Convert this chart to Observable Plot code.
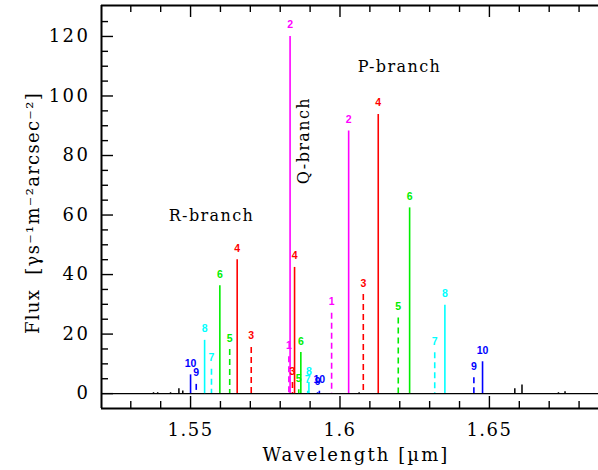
<!DOCTYPE html>
<html>
<head>
<meta charset="utf-8">
<script src="https://cdn.jsdelivr.net/npm/d3@7"></script>
<script src="https://cdn.jsdelivr.net/npm/@observablehq/plot@0.6"></script>
<style>
  body { margin: 0; background: #fff; }
  g[aria-label="x-axis tick label"] text { letter-spacing: 1.5px; }
  g[aria-label="y-axis tick label"] text { letter-spacing: 2.5px; }
</style>
</head>
<body>
<div id="chart"></div>
<script>
// R-branch: upper-level J, wavelength (µm), flux
const rJ    = [3, 4, 5, 6, 7, 8, 9, 10];
const rWave = [1.5703, 1.5656, 1.5631, 1.5598, 1.5570, 1.5547, 1.5519, 1.5500];
const rFlux = [15.5, 45.0, 14.8, 36.2, 8.2, 17.9, 3.1, 6.3];

// Q-branch
const qJ    = [1, 2, 3, 4, 5, 6, 7, 8, 9, 10];
const qWave = [1.5829, 1.5833, 1.5841, 1.5848, 1.5862, 1.5869, 1.5892, 1.5896, 1.5925, 1.5931];
const qFlux = [12.4, 120.0, 3.7, 42.4, 1.3, 13.8, 0.8, 3.7, 0.3, 0.8];

// P-branch
const pJ    = [1, 2, 3, 4, 5, 6, 7, 8, 9, 10];
const pWave = [1.5972, 1.6029, 1.6078, 1.6128, 1.6195, 1.6233, 1.6317, 1.6351, 1.6448, 1.6477];
const pFlux = [27.0, 88.2, 33.3, 93.8, 25.4, 62.4, 13.7, 29.7, 5.3, 10.7];

// weak unlabelled lines (black)
const otherWave = [1.5376, 1.5390, 1.5433, 1.5461, 1.5474, 1.6064, 1.6585, 1.6609, 1.6731, 1.6753];
const otherFlux = [0.3, 0.3, 0.3, 1.6, 0.9, 0.3, 1.6, 2.9, 0.3, 0.6];

// branch annotations
const branchName = ["R-branch", "Q-branch", "P-branch"];
const branchWave = [1.5570, 1.5878, 1.6199];
const branchFlux = [59.8, 85.0, 109.9];

// axis ticks
const xMajor = [1.55, 1.6, 1.65];
const xMinor = [1.53, 1.54, 1.56, 1.57, 1.58, 1.59, 1.61, 1.62, 1.63, 1.64, 1.66, 1.67, 1.68];
const yMajor = [0, 20, 40, 60, 80, 100, 120];
const yMinor = [5, 10, 15, 25, 30, 35, 45, 50, 55, 65, 70, 75, 85, 90, 95, 105, 110, 115, 125];

// colour per J level
const jLevels = [1, 2, 3, 4, 5, 6, 7, 8, 9, 10];
const jColors = ["#ff00ff", "#ff00ff", "#ff0000", "#ff0000", "#00ee00", "#00ee00",
                 "#00ffff", "#00ffff", "#0000ff", "#0000ff"];

const xTitle = "Wavelength [µm]";
const yTitle = "Flux  [γs⁻¹m⁻²arcsec⁻²]";

const toRows = (js, ws, fs) => js.map((j, i) => ({j, wave: ws[i], flux: fs[i]}));
const lines = [...toRows(rJ, rWave, rFlux), ...toRows(qJ, qWave, qFlux), ...toRows(pJ, pWave, pFlux)];
const others = otherWave.map((w, i) => ({wave: w, flux: otherFlux[i]}));
const branches = branchName.map((name, i) => ({name, wave: branchWave[i], flux: branchFlux[i]}));

const W = 598, H = 470;
const mTop = 5, mRight = 0, mBottom = 62, mLeft = 101;
const fw = W - mLeft - mRight, fh = H - mTop - mBottom;
const xDomain = [1.5202, 1.6865];
const yDomain = [-5, 130.4];

const serif = "DejaVu Serif";
const tickStyle = {stroke: "black", strokeWidth: 1.4};

const chart = Plot.plot({
  width: W,
  height: H,
  marginTop: mTop,
  marginRight: mRight,
  marginBottom: mBottom,
  marginLeft: mLeft,
  x: {domain: xDomain},
  y: {domain: yDomain},
  color: {domain: jLevels, range: jColors},
  style: {fontFamily: serif, background: "white", color: "black"},
  marks: [
    // zero baseline
    Plot.ruleY([0], {stroke: "black", strokeWidth: 1.2}),
    // weak lines
    Plot.ruleX(others, {x: "wave", y1: 0, y2: "flux", stroke: "black", strokeWidth: 1.5}),
    // odd J: dashed
    Plot.ruleX(lines.filter(d => d.j % 2 === 1), {
      x: "wave", y1: "flux", y2: 0, stroke: "j", strokeWidth: 1.6, strokeDasharray: "6,4"
    }),
    // even J: solid
    Plot.ruleX(lines.filter(d => d.j % 2 === 0), {
      x: "wave", y1: "flux", y2: 0, stroke: "j", strokeWidth: 1.6
    }),
    // J labels above each line
    Plot.text(lines, {
      x: "wave", y: "flux", text: d => String(d.j), fill: "j",
      dy: -8, lineAnchor: "bottom",
      fontFamily: "Liberation Sans", fontWeight: "bold", fontSize: 10.5
    }),
    // branch names
    Plot.text(branches.filter(d => d.name !== "Q-branch"), {
      x: "wave", y: "flux", text: "name", fontSize: 16, fill: "black"
    }),
    Plot.text(branches.filter(d => d.name === "Q-branch"), {
      x: "wave", y: "flux", text: "name", fontSize: 16, fill: "black", rotate: -90
    }),
    // frame (left, top, bottom)
    Plot.ruleY([yDomain[0], yDomain[1]], {stroke: "black", strokeWidth: 2}),
    Plot.ruleX([xDomain[0]], {stroke: "black", strokeWidth: 2}),
    // inward ticks, bottom and top
    Plot.tickX(xMajor, {x: d => d, insetTop: fh - 12, ...tickStyle}),
    Plot.tickX(xMinor, {x: d => d, insetTop: fh - 7, ...tickStyle}),
    Plot.tickX(xMajor, {x: d => d, insetBottom: fh - 12, ...tickStyle}),
    Plot.tickX(xMinor, {x: d => d, insetBottom: fh - 7, ...tickStyle}),
    // inward ticks, left
    Plot.tickY(yMajor, {y: d => d, insetRight: fw - 12, ...tickStyle}),
    Plot.tickY(yMinor, {y: d => d, insetRight: fw - 7, ...tickStyle}),
    // tick labels
    Plot.axisX(xMajor, {tickSize: 0, tickPadding: 15, tickFormat: d => String(d), fontSize: 18, label: null}),
    Plot.axisY(yMajor, {tickSize: 0, tickPadding: 11, tickFormat: d => String(d), fontSize: 18, label: null}),
    // axis titles
    Plot.text([xTitle], {
      text: d => d, frameAnchor: "bottom", lineAnchor: "middle", textAnchor: "middle",
      dy: 47, dx: 6, fontSize: 18, fill: "black"
    }),
    Plot.text([yTitle], {
      text: d => d, frameAnchor: "left", lineAnchor: "middle", textAnchor: "middle",
      dx: -68, dy: 6, rotate: -90, fontSize: 18, fill: "black"
    })
  ]
});

// wider letter spacing for titles and branch names
const spacing = new Map([[xTitle, "2.1px"], [yTitle, "1.3px"],
  ["R-branch", "1.4px"], ["Q-branch", "1.4px"], ["P-branch", "1.4px"]]);
d3.select(chart).selectAll("text").each(function () {
  const s = spacing.get(this.textContent);
  if (s) this.style.letterSpacing = s;
});

document.getElementById("chart").appendChild(chart);
</script>
</body>
</html>
